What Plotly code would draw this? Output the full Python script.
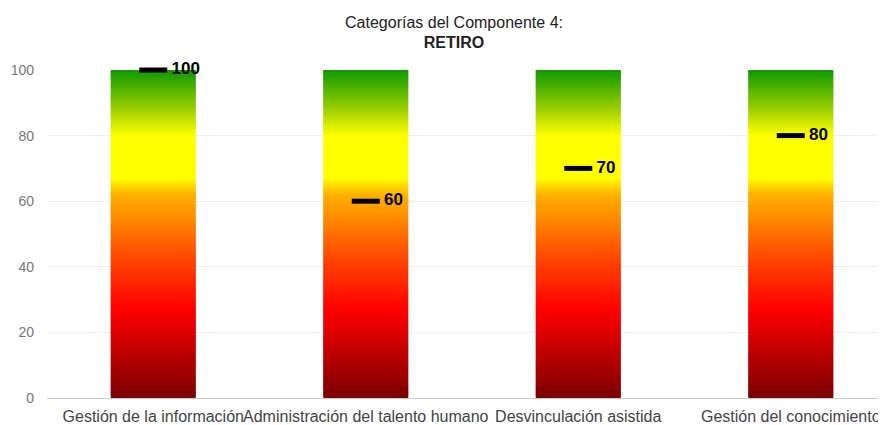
import plotly.graph_objects as go
from plotly.colors import sample_colorscale

# ---- data ----
categories = ["Gestión de la información", "Administración del talento humano",
              "Desvinculación asistida", "Gestión del conocimiento"]
scores = [100, 60, 70, 80]
scale_max = 100
y_ticks = [0, 20, 40, 60, 80, 100]

# ---- gradient background bars (stacked thin segments) ----
colorscale = [
    [0.00, "#7a0000"],
    [0.27, "#ff0000"],
    [0.42, "#ff4400"],
    [0.55, "#ff8c00"],
    [0.62, "#ffb000"],
    [0.67, "#ffff00"],
    [0.80, "#ffff00"],
    [0.88, "#9bd000"],
    [1.00, "#0f9900"],
]
n_seg = 200
step = scale_max / n_seg
seg_x, seg_base, seg_h, seg_col = [], [], [], []
for k in range(n_seg):
    c = sample_colorscale(colorscale, [(k + 0.5) / n_seg])[0]
    for cat in categories:
        seg_x.append(cat)
        seg_base.append(k * step)
        seg_h.append(min(step * 1.6, scale_max - k * step))
        seg_col.append(c)

fig = go.Figure()
fig.add_trace(go.Bar(
    x=seg_x, y=seg_h, base=seg_base,
    marker=dict(color=seg_col, line=dict(width=0)),
    width=0.4, hoverinfo="skip", showlegend=False,
))
fig.add_trace(go.Scatter(
    x=categories, y=scores, mode="markers+text",
    marker=dict(symbol="line-ew", size=20, line=dict(width=5, color="black")),
    texttemplate=" %{y}", textposition="middle right",
    textfont=dict(family="Liberation Sans", size=17, color="black", weight="bold"),
    cliponaxis=False, showlegend=False,
))

fig.update_layout(
    width=878, height=417,
    margin=dict(l=39, r=3, t=62, b=27),
    paper_bgcolor="white", plot_bgcolor="white",
    barmode="overlay",
    font=dict(family="Liberation Sans", color="#444"),
    title=dict(text="Categorías del Componente 4:<br><b>RETIRO</b>",
               x=0.508, xanchor="center", y=0.953, yanchor="top",
               font=dict(size=16, color="#222")),
    xaxis=dict(range=[-0.5, 3.434], tickangle=0, showgrid=False, automargin=False,
               showline=True, linecolor="#cccccc", linewidth=1,
               tickfont=dict(size=16, color="#444"), ticks="",
               ticklabelstandoff=4),
    yaxis=dict(range=[0, 100], tickvals=y_ticks, showgrid=True, automargin=False,
               gridcolor="#efefef", zeroline=False,
               tickfont=dict(size=14, color="#777"), ticks="",
               ticklabelstandoff=12),
)

fig.write_html("out.html")
